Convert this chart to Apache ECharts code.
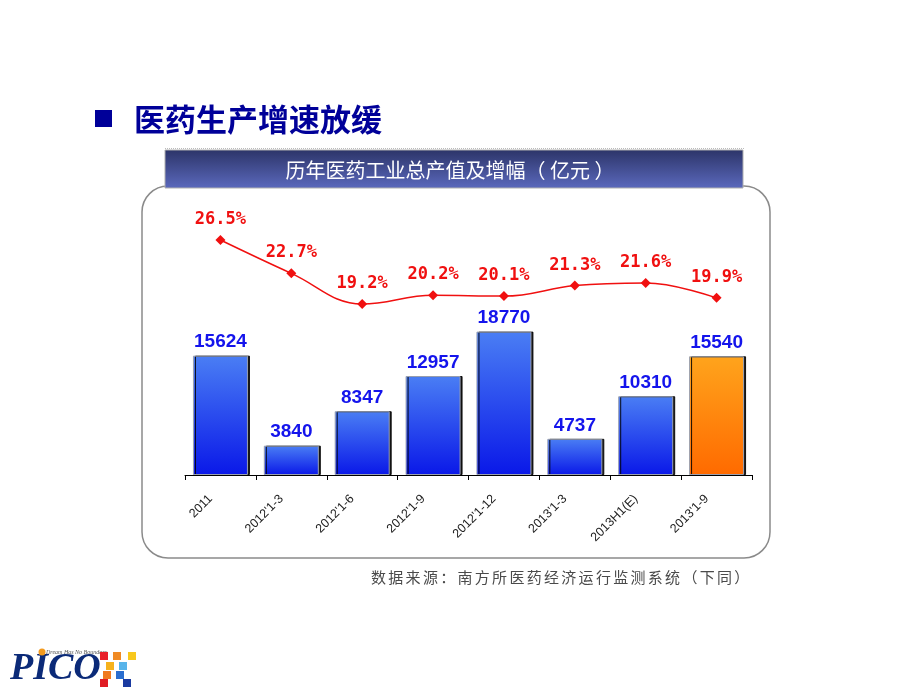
<!DOCTYPE html>
<html><head><meta charset="utf-8">
<script src="https://cdn.jsdelivr.net/npm/echarts@6/dist/echarts.min.js"></script>
<style>html,body{margin:0;padding:0;background:#fff;}#c{width:920px;height:690px;}</style>
</head><body><div id="c"></div>
<script>
const categories = ["2011","2012'1-3","2012'1-6","2012'1-9","2012'1-12","2013'1-3","2013H1(E)","2013'1-9"];
const outputValues = [15624, 3840, 8347, 12957, 18770, 4737, 10310, 15540];
const growthRates = [26.5, 22.7, 19.2, 20.2, 20.1, 21.3, 21.6, 19.9];
const highlightIndex = 7;

const blueGrad = new echarts.graphic.LinearGradient(0,0,0,1,[{offset:0,color:'#4a7ef4'},{offset:1,color:'#0a18e8'}]);
const orangeGrad = new echarts.graphic.LinearGradient(0,0,0,1,[{offset:0,color:'#ffa41c'},{offset:1,color:'#ff6a00'}]);

const barData = outputValues.map((v,i)=>({
  value:v,
  itemStyle:{color: i===highlightIndex ? orangeGrad : blueGrad}
}));

const sourceText = '数据来源：南方所医药经济运行监测系统（下同）';
const sourceChars = Array.from(sourceText).map((ch,i)=>({
  type:'text',x:371+i*17.3,y:577,style:{text:ch,fill:'#4a4a4a',font:'15px "Noto Sans CJK SC"',verticalAlign:'middle'}
}));

const logoSquares = [
  [100,652,'#e8202a'],[113,652,'#f08a24'],[128,652,'#f8c81c'],
  [106,662,'#f6b21c'],[119,662,'#58b4ea'],
  [103,671,'#f07a20'],[116,671,'#2a6ed0'],
  [100,679,'#e01c24'],[123,679,'#1a3aa0']
].map(s=>({type:'rect',shape:{x:s[0],y:s[1],width:8,height:8},style:{fill:s[2]}}));

const chart = echarts.init(document.getElementById('c'));
chart.setOption({
  animation:false,
  backgroundColor:'#fff',
  graphic:[
    {type:'rect',z:-10,shape:{x:142,y:186,width:628,height:372,r:26},style:{fill:'#fff',stroke:'#8a8a8a',lineWidth:1.5}},
    {type:'rect',z:5,shape:{x:165,y:150,width:578,height:38},
      style:{fill:new echarts.graphic.LinearGradient(0,0,0,1,[{offset:0,color:'#2c3468'},{offset:1,color:'#5b69bd'}]),stroke:'#b0b0b0',lineWidth:1}},
    {type:'text',z:6,x:450,y:170,style:{text:'历年医药工业总产值及增幅（ 亿元 ）',fill:'#fff',font:'20px "Noto Sans CJK SC"',align:'center',verticalAlign:'middle'}},
    {type:'line',z:5,shape:{x1:165,y1:148.5,x2:745,y2:148.5},style:{stroke:'#bbb',lineWidth:1,lineDash:[1,1]}},
    {type:'rect',shape:{x:95,y:110,width:17,height:17},style:{fill:'#000099'}},
    {type:'text',x:134,y:119,style:{text:'医药生产增速放缓',fill:'#000099',font:'bold 31px "Noto Sans CJK SC"',verticalAlign:'middle'}},
    ...sourceChars,
    {type:'text',x:10,y:669,style:{text:'PICO',fill:'#0b2a78',font:'italic bold 38px "Liberation Serif"',verticalAlign:'middle'}},
    {type:'circle',shape:{cx:42,cy:652,r:3.5},style:{fill:'#f39a1e'}},
    {type:'text',x:46,y:652,style:{text:'Dream Has No Boundary',fill:'#555',font:'italic 6px "Liberation Serif"',verticalAlign:'middle'}},
    ...logoSquares
  ],
  grid:{left:185,right:168,top:200,bottom:215,containLabel:false},
  xAxis:{
    type:'category',data:categories,
    axisLine:{lineStyle:{color:'#000',width:1}},
    axisTick:{show:true,length:5,lineStyle:{color:'#000'}},
    axisLabel:{rotate:45,color:'#222',fontSize:12.5,fontFamily:'Liberation Sans',margin:12,interval:0,padding:[0,14,0,0]}
  },
  yAxis:[
    {type:'value',min:0,max:36000,show:false,splitLine:{show:false}},
    {type:'value',min:-0.3,max:31.06,show:false,splitLine:{show:false}}
  ],
  series:[
    {type:'bar',data:barData,barWidth:55,yAxisIndex:0,
      itemStyle:{borderColor:'#9aa0b0',borderWidth:1,shadowColor:'rgba(0,0,0,0.9)',shadowOffsetX:2,shadowOffsetY:0,shadowBlur:0},
      label:{show:true,position:'top',distance:4,color:'#1414ec',fontSize:19,fontWeight:'bold',fontFamily:'Liberation Sans'}},
    {type:'line',data:growthRates,yAxisIndex:1,smooth:0.4,symbol:'diamond',symbolSize:10,
      lineStyle:{color:'#f01010',width:1.5},itemStyle:{color:'#f01010'},
      label:{show:true,position:'top',distance:7,color:'#f01010',fontSize:17,fontWeight:'bold',fontFamily:'DejaVu Sans Mono',formatter:p=>p.value.toFixed(1)+'%'}}
  ]
});
</script></body></html>
